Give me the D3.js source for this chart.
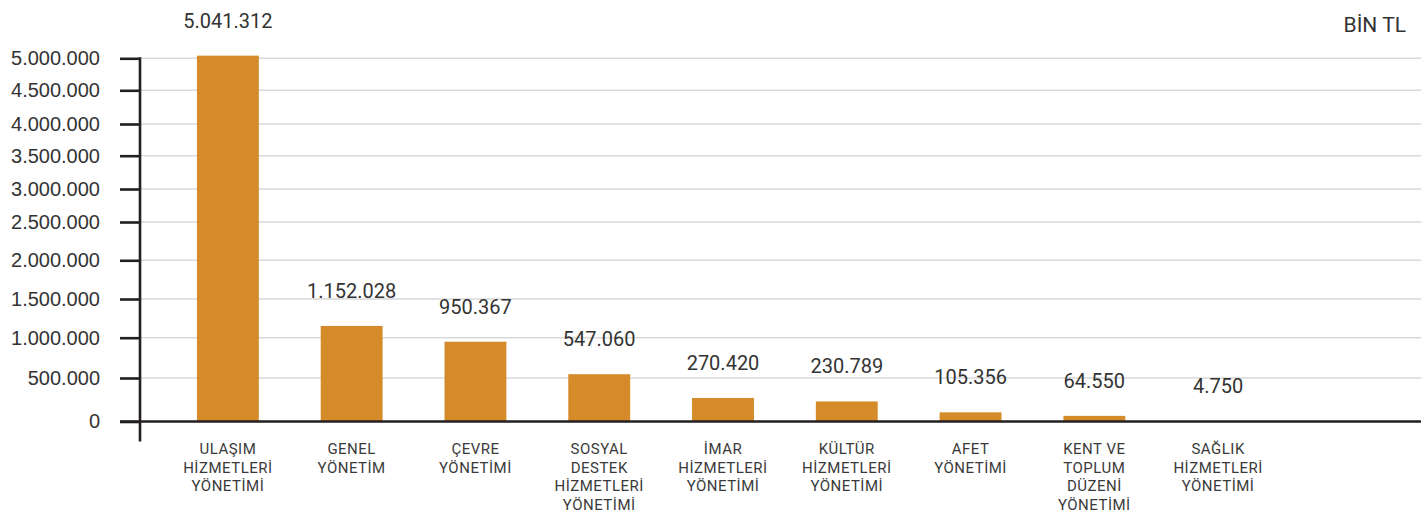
<!DOCTYPE html>
<html>
<head>
<meta charset="utf-8">
<script src="https://cdn.jsdelivr.net/npm/d3@7"></script>
<style>
  body { margin: 0; background: #fff; }
  svg { display: block; font-family: Roboto, "Noto Sans", sans-serif; }
  .grid-line { stroke: #d9d9d9; stroke-width: 1.5; }
  .axis-line { stroke: #231f20; stroke-width: 2.6; }
  .tick-label, .value-label { fill: #333; font-size: 20px; }
  .cat-label { fill: #3a3a3a; font-size: 15px; letter-spacing: 0.5px; }
  .unit { fill: #333; font-size: 21px; }
</style>
</head>
<body>
<div id="chart"></div>
<script>
// categories (line breaks as in the original)
var categories = [
    ["ULAŞIM", "HİZMETLERİ", "YÖNETİMİ"],
    ["GENEL", "YÖNETİM"],
    ["ÇEVRE", "YÖNETİMİ"],
    ["SOSYAL", "DESTEK", "HİZMETLERİ", "YÖNETİMİ"],
    ["İMAR", "HİZMETLERİ", "YÖNETİMİ"],
    ["KÜLTÜR", "HİZMETLERİ", "YÖNETİMİ"],
    ["AFET", "YÖNETİMİ"],
    ["KENT VE", "TOPLUM", "DÜZENİ", "YÖNETİMİ"],
    ["SAĞLIK", "HİZMETLERİ", "YÖNETİMİ"]
];
// bin TL
var values = [5041312, 1152028, 950367, 547060, 270420, 230789, 105356, 64550, 4750];
var yTicks = [0, 500000, 1000000, 1500000, 2000000, 2500000, 3000000, 3500000, 4000000, 4500000, 5000000];
var unitLabel = "BİN TL";

var width = 1421,
    height = 514;

var trLocale = d3.formatLocale({ decimal: ",", thousands: ".", grouping: [3], currency: ["", " TL"] });
var fmt = trLocale.format(",d");

var svg = d3.select("#chart").append("svg")
    .attr("width", width)
    .attr("height", height);

var axisX = 140,
    tickLen = 20;

// the original axis has uneven tick spacing, so use a polylinear scale
var y = d3.scaleLinear()
    .domain(yTicks)
    .range([421.5, 378, 337.7, 299, 260.3, 222, 189, 155.7, 124, 90.3, 58.3]);

var x = d3.scaleBand()
    .domain(d3.range(categories.length))
    .range([166, 1280])
    .paddingInner(0.5)
    .paddingOuter(0.25);

// grid lines
svg.append("g").selectAll("line")
    .data(yTicks.filter(function(d) { return d > 0; }))
    .enter().append("line")
    .attr("class", "grid-line")
    .attr("x1", axisX)
    .attr("x2", width)
    .attr("y1", function(d) { return y(d); })
    .attr("y2", function(d) { return y(d); });

// bars
svg.append("g").selectAll("rect")
    .data(values)
    .enter().append("rect")
    .attr("x", function(d, i) { return x(i); })
    .attr("width", x.bandwidth())
    .attr("y", function(d) { return y(d); })
    .attr("height", function(d) { return y(0) - y(d); })
    .style("fill", "#d68b2b");

// y axis
var yAxis = d3.axisLeft(y)
    .tickValues(yTicks)
    .tickSize(tickLen)
    .tickPadding(20)
    .tickFormat(fmt);

var yAxisElem = svg.append("g")
    .attr("transform", "translate(" + axisX + ",0)")
    .call(yAxis);

yAxisElem.select(".domain").remove();
yAxisElem.selectAll(".tick line").attr("class", "axis-line");
yAxisElem.selectAll(".tick text")
    .attr("class", "tick-label")
    .attr("font-family", null)
    .attr("font-size", null)
    .attr("fill", null);

svg.append("line")
    .attr("class", "axis-line")
    .attr("x1", axisX).attr("x2", axisX)
    .attr("y1", y(5000000) - 1)
    .attr("y2", y(0) + 20);

svg.append("line")
    .attr("class", "axis-line")
    .attr("x1", axisX - tickLen).attr("x2", width)
    .attr("y1", y(0)).attr("y2", y(0));

// value labels
svg.append("g").selectAll("text")
    .data(values)
    .enter().append("text")
    .attr("class", "value-label")
    .attr("text-anchor", "middle")
    .attr("x", function(d, i) { return x(i) + x.bandwidth() / 2; })
    .attr("y", function(d) { return y(d) - 28; })
    .text(function(d) { return fmt(d); });

// category labels
var cats = svg.append("g").selectAll("text")
    .data(categories)
    .enter().append("text")
    .attr("class", "cat-label")
    .attr("text-anchor", "middle")
    .attr("x", function(d, i) { return x(i) + x.bandwidth() / 2; })
    .attr("y", 454);

cats.selectAll("tspan")
    .data(function(d) { return d; })
    .enter().append("tspan")
    .attr("x", function() { return d3.select(this.parentNode).attr("x"); })
    .attr("dy", function(d, i) { return i === 0 ? 0 : 18.7; })
    .text(function(d) { return d; });

// unit
svg.append("text")
    .attr("class", "unit")
    .attr("text-anchor", "end")
    .attr("x", 1406)
    .attr("y", 32)
    .text(unitLabel);
</script>
</body>
</html>
